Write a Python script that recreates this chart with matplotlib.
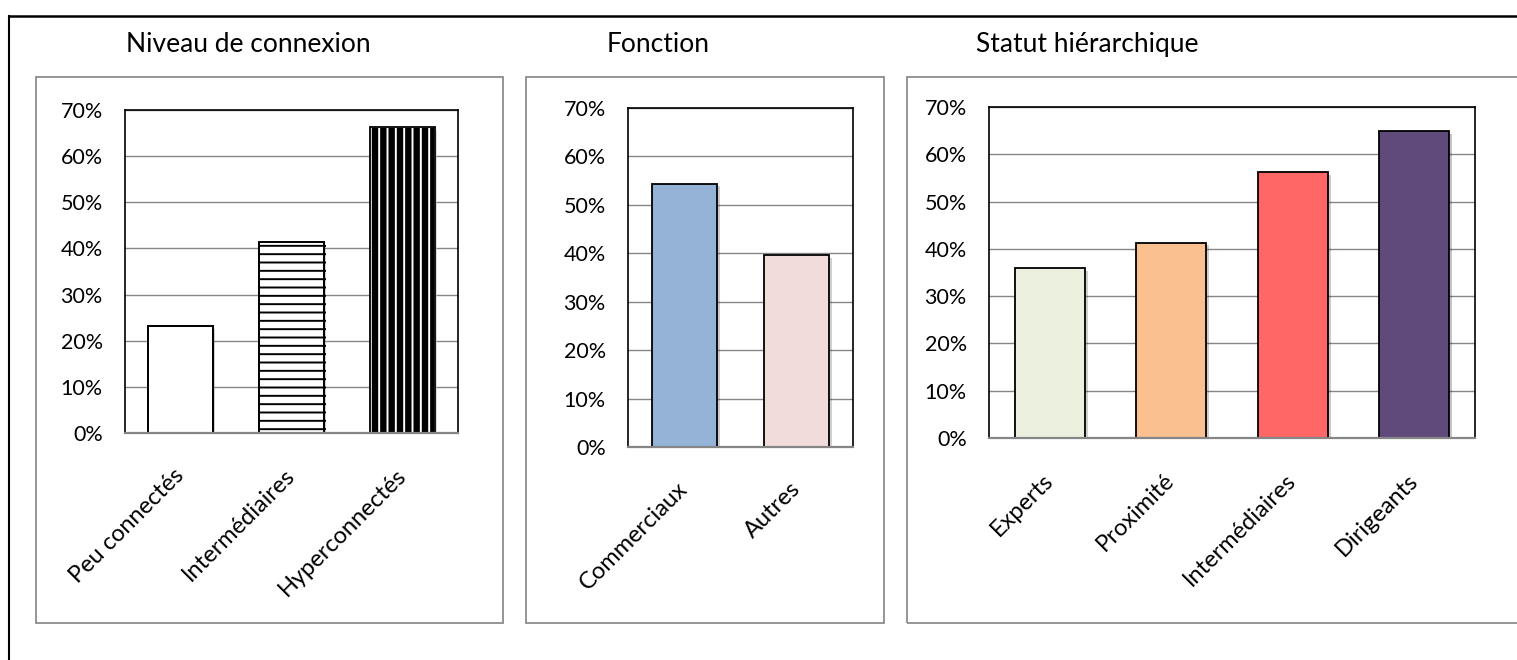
import matplotlib.pyplot as plt
import matplotlib.patheffects as pe
from matplotlib.patches import Rectangle
from matplotlib.lines import Line2D
from matplotlib.ticker import PercentFormatter, MultipleLocator

# data
conn_labels = ['Peu connectés', 'Intermédiaires', 'Hyperconnectés']
conn_values = [0.232, 0.414, 0.663]

fonc_labels = ['Commerciaux', 'Autres']
fonc_values = [0.544, 0.397]
fonc_colors = ['#95B3D7', '#F2DCDB']

statut_labels = ['Experts', 'Proximité', 'Intermédiaires', 'Dirigeants']
statut_values = [0.360, 0.413, 0.563, 0.649]
statut_colors = ['#EBF1DE', '#FAC090', '#FF6666', '#604A7B']

titles = ['Niveau de connexion', 'Fonction', 'Statut hiérarchique']

W, H = 1517, 660
plt.rcParams['font.family'] = ['Lato', 'DejaVu Sans']
plt.rcParams['hatch.linewidth'] = 1.4

fig = plt.figure(figsize=(W / 100, H / 100), dpi=100)


def fx(x):
    return x / W


def fy(y):
    return 1 - y / H


def add_axes_px(left, top, right, bottom):
    return fig.add_axes([fx(left), fy(bottom), (right - left) / W, (bottom - top) / H])


shadow = [pe.SimplePatchShadow(offset=(2, -2), alpha=0.25), pe.Normal()]


def style_axes(ax, labels):
    n = len(labels)
    ax.set_xlim(-0.5, n - 0.5)
    ax.set_ylim(0, 0.7)
    ax.yaxis.set_major_locator(MultipleLocator(0.1))
    ax.yaxis.set_major_formatter(PercentFormatter(1.0, decimals=0))
    ax.yaxis.grid(True, color='#868686', lw=1.0)
    ax.set_axisbelow(True)
    for s in ['top', 'left', 'right']:
        ax.spines[s].set_color('black')
        ax.spines[s].set_linewidth(1.2)
    ax.spines['bottom'].set_color('#868686')
    ax.spines['bottom'].set_linewidth(1.6)
    ax.tick_params(axis='y', length=0, pad=16, labelsize=15.5)
    ax.tick_params(axis='x', length=0, pad=28, labelsize=17)
    ax.set_xticks(range(n))
    ax.set_xticklabels(labels, rotation=45, ha='right', va='center',
                       rotation_mode='anchor')


# outer frame (runs past the right and bottom edges)
fig.add_artist(Line2D([fx(9), fx(9)], [fy(16), fy(H + 5)], color='black', lw=1.5))
fig.add_artist(Line2D([fx(9), fx(W + 5)], [fy(16), fy(16)], color='black', lw=1.8))

# panel boxes
for left, right in [(36, 503), (526, 884), (907, 1540)]:
    fig.add_artist(Rectangle((fx(left), fy(623)), (right - left) / W, (623 - 77) / H,
                             transform=fig.transFigure, fill=False,
                             edgecolor='#8C8C8C', lw=1.3))

# titles
for x, t in zip([126, 607, 976], titles):
    fig.text(fx(x), fy(52), t, fontsize=19, ha='left', va='baseline')

width = 0.58

# panel 1: connexion level
ax1 = add_axes_px(125, 110, 458, 433)
style_axes(ax1, conn_labels)
pos = range(len(conn_values))
b = ax1.bar(pos, conn_values, width, color='white', edgecolor='black', lw=1.3)
b[1].set_hatch('--')
b[2].set_facecolor('black')
b[2].set_edgecolor('white')
b[2].set_hatch('||')
for r in b:
    r.set_path_effects(shadow)
ax1.bar(pos, conn_values, width, fill=False, edgecolor='black', lw=1.3)

# panel 2: function
ax2 = add_axes_px(628, 108, 853, 447)
style_axes(ax2, fonc_labels)
b = ax2.bar(range(len(fonc_values)), fonc_values, width, color=fonc_colors,
            edgecolor='black', lw=1.3)
for r in b:
    r.set_path_effects(shadow)

# panel 3: hierarchy
ax3 = add_axes_px(989, 107, 1475, 438)
style_axes(ax3, statut_labels)
b = ax3.bar(range(len(statut_values)), statut_values, width, color=statut_colors,
            edgecolor='black', lw=1.3)
for r in b:
    r.set_path_effects(shadow)

fig.savefig('out.png', dpi=100)
